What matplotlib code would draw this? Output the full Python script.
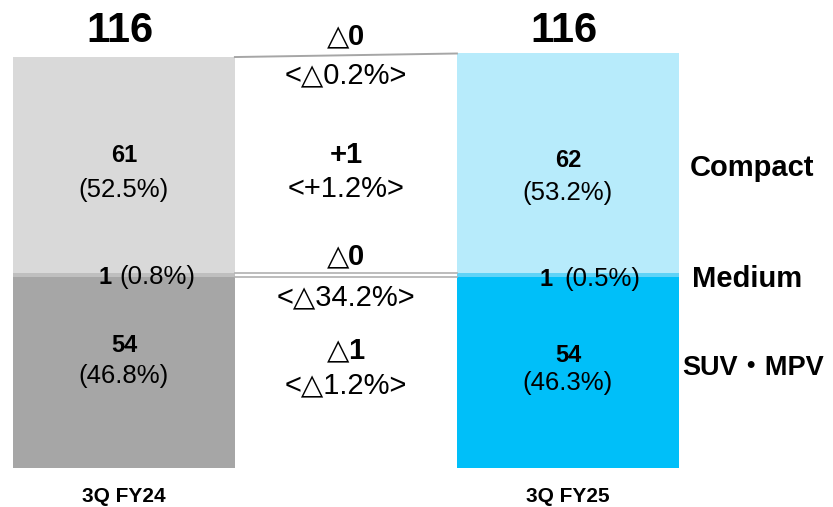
import matplotlib
matplotlib.use("Agg")
import matplotlib.pyplot as plt

plt.rcParams['font.family'] = ['Liberation Sans', 'DejaVu Sans']

# Sales volume by body type (units, rounded)
periods = ["3Q FY24", "3Q FY25"]
segments = ["SUV・MPV", "Medium", "Compact"]
suv = [54, 54]
medium = [1, 1]
compact = [61, 62]
totals = [116, 116]
suv_share = ["(46.8%)", "(46.3%)"]
medium_share = ["(0.8%)", "(0.5%)"]
compact_share = ["(52.5%)", "(53.2%)"]

# Year-on-year change, bottom to top
diff_values = ["1", "0", "+1", "0"]
diff_pct = ["<△1.2%>", "<△34.2%>", "<+1.2%>", "<△0.2%>"]
diff_neg = [True, True, False, True]

colors_suv = ["#a6a6a6", "#00bff9"]
colors_med = ["#bfbfbf", "#5fd3f7"]
colors_cmp = ["#d9d9d9", "#b7ebfb"]

fig = plt.figure(figsize=(8.33, 5.07), dpi=100)
ax = fig.add_axes([0, 0, 1, 1])
ax.set_xlim(-0.279, 1.597)
ax.set_ylim(-11.0, 132.1)
ax.axis("off")

x = [0, 1]
w = 0.5
ax.bar(x, suv, w, color=colors_suv, linewidth=0)
ax.bar(x, medium, w, bottom=suv, color=colors_med, linewidth=0)
bottom_cmp = [s + m for s, m in zip(suv, medium)]
ax.bar(x, compact, w, bottom=bottom_cmp, color=colors_cmp, linewidth=0)

# connector lines between the bars
tops = [b + c for b, c in zip(bottom_cmp, compact)]
ax.plot([w / 2, 1 - w / 2], tops, color="#a6a6a6", lw=1.4)
ax.plot([w / 2, 1 - w / 2], suv, color="#b0b0b0", lw=1.2)
ax.plot([w / 2, 1 - w / 2], bottom_cmp, color="#b0b0b0", lw=1.2)

# baselines of the labels inside the bars
cmp_num_y = [86.4, 85.0]
cmp_pct_y = [76.5, 75.6]
suv_num_y = [32.7, 29.9]
suv_pct_y = [24.0, 22.0]
med_y = [51.9, 51.5]
med_num_x = [-0.028, 0.966]
med_pct_x = [-0.011, 0.991]

for i in range(2):
    ax.text(x[i] - 0.01, 120.2, str(totals[i]), ha="center", va="baseline",
            fontsize=30, fontweight="bold")
    ax.text(x[i], cmp_num_y[i], str(compact[i]), ha="center", va="baseline",
            fontsize=17, fontweight="bold")
    ax.text(x[i], cmp_pct_y[i], compact_share[i], ha="center", va="baseline",
            fontsize=18.5)
    ax.text(x[i], suv_num_y[i], str(suv[i]), ha="center", va="baseline",
            fontsize=17, fontweight="bold")
    ax.text(x[i], suv_pct_y[i], suv_share[i], ha="center", va="baseline",
            fontsize=18.5)
    ax.text(med_num_x[i], med_y[i], str(medium[i]), ha="right", va="baseline",
            fontsize=17, fontweight="bold")
    ax.text(med_pct_x[i], med_y[i], medium_share[i], ha="left", va="baseline",
            fontsize=18.5)
    ax.text(x[i], -9.6, periods[i], ha="center", va="baseline", fontsize=15,
            fontweight="bold")

# change labels in the gap
diff_y = [30.8, 57.2, 86.1, 119.4]
pct_y = [21.2, 46.0, 76.6, 108.7]
for v, p, neg, yv, yp in zip(diff_values, diff_pct, diff_neg, diff_y, pct_y):
    if neg:
        ax.text(0.507, yv, "△", ha="right", va="baseline", fontsize=21,
                family=["DejaVu Sans"])
        ax.text(0.505, yv, v, ha="left", va="baseline", fontsize=21,
                fontweight="bold")
    else:
        ax.text(0.5, yv, v, ha="center", va="baseline", fontsize=21,
                fontweight="bold")
    ax.text(0.5, yp, p, ha="center", va="baseline", fontsize=21)

# segment names on the right
seg_y = [26.2, 51.2, 82.4]
seg_x = [1.258, 1.279, 1.275]
seg_size = [19.5, 21, 21]
for name, yy, xx, fs in zip(segments, seg_y, seg_x, seg_size):
    ax.text(xx, yy, name, ha="left", va="baseline", fontsize=fs,
            fontweight="bold", family=["Liberation Sans", "Noto Sans CJK JP"])

fig.savefig("out.png", dpi=100)
